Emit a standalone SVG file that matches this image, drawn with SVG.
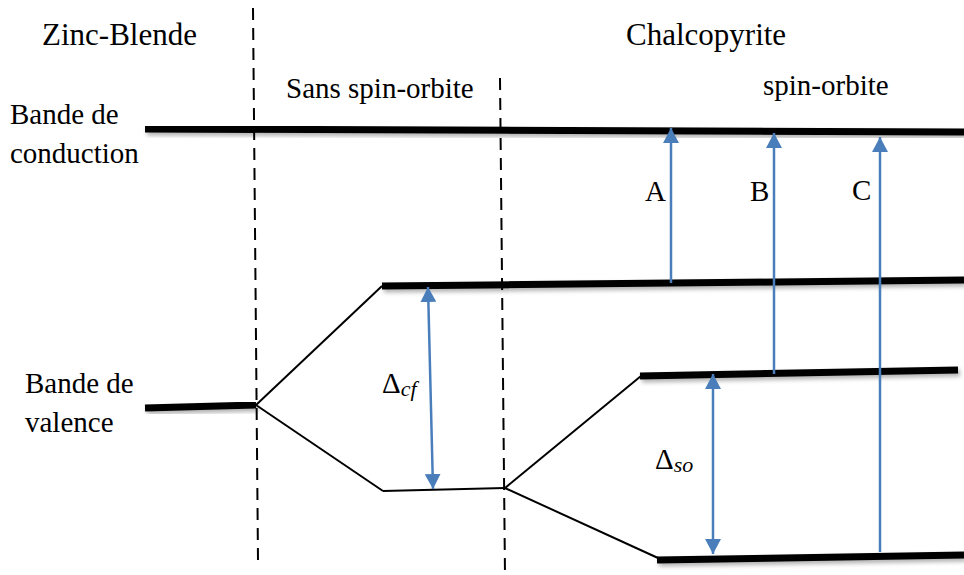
<svg xmlns="http://www.w3.org/2000/svg" width="964" height="575" viewBox="0 0 964 575">
  <defs>
    <filter id="shadow" x="-5%" y="-100%" width="110%" height="400%">
      <feDropShadow dx="2" dy="3" stdDeviation="2" flood-color="#000" flood-opacity="0.3"/>
    </filter>
    <marker id="head" markerUnits="userSpaceOnUse" markerWidth="16" markerHeight="16" refX="15" refY="8" orient="auto-start-reverse">
      <path d="M0,0 L15,8 L0,16 z" fill="#4a7ebb"/>
    </marker>
  </defs>
  <style>
    .t { font-family: "Liberation Serif", "Times New Roman", serif; fill: #000; }
    .big { font-size: 31px; }
    .lab { font-size: 29px; }
    .sub { font-size: 22px; font-style: italic; }
    .band { stroke: #000; stroke-width: 7; fill: none; filter: url(#shadow); }
    .link { stroke: #000; stroke-width: 2; fill: none; }
    .dash { stroke: #000; stroke-width: 2; stroke-dasharray: 12 8; fill: none; }
    .trans { stroke: #4a7ebb; stroke-width: 2.5; fill: none; }
  </style>

  <rect width="964" height="575" fill="#fff"/>

  <!-- section dividers -->
  <g id="dividers">
    <line class="dash" x1="253" y1="8" x2="258" y2="560"/>
    <line class="dash" x1="500" y1="78" x2="505" y2="575"/>
  </g>

  <!-- headings -->
  <g id="headings">
    <text class="t big" x="42" y="45">Zinc-Blende</text>
    <text class="t big" x="626" y="45">Chalcopyrite</text>
    <text class="t lab" x="286" y="98">Sans spin-orbite</text>
    <text class="t lab" x="763" y="95">spin-orbite</text>
  </g>

  <!-- energy levels -->
  <g id="conduction">
    <line class="band" x1="145" y1="129" x2="964" y2="132"/>
    <text class="t lab" x="10" y="124">Bande de</text>
    <text class="t lab" x="10" y="163">conduction</text>
  </g>
  <g id="valence-zb">
    <line class="band" x1="145" y1="408" x2="256" y2="405"/>
    <text class="t lab" x="25" y="393">Bande de</text>
    <text class="t lab" x="25" y="432">valence</text>
  </g>
  <g id="cf-upper">
    <line class="band" x1="382" y1="286" x2="964" y2="280"/>
  </g>
  <g id="cf-lower">
    <line class="link" x1="383" y1="491" x2="505" y2="488"/>
  </g>
  <g id="so-upper">
    <line class="band" x1="640" y1="376" x2="958" y2="370"/>
  </g>
  <g id="so-lower">
    <line class="band" x1="657" y1="560" x2="964" y2="555"/>
  </g>

  <!-- splitting connectors and transitions -->
  <g id="connectors">
    <line class="link" x1="256" y1="405" x2="382" y2="286"/>
    <line class="link" x1="256" y1="405" x2="383" y2="491"/>
    <line class="link" x1="505" y1="488" x2="641" y2="376"/>
    <line class="link" x1="505" y1="488" x2="658" y2="558"/>

    <line class="trans" x1="671" y1="283" x2="671" y2="128" marker-end="url(#head)"/>
    <line class="trans" x1="774" y1="374" x2="774" y2="133" marker-end="url(#head)"/>
    <line class="trans" x1="880" y1="552" x2="880" y2="137" marker-end="url(#head)"/>

    <line class="trans" x1="428" y1="287" x2="433" y2="489" marker-start="url(#head)" marker-end="url(#head)"/>
    <line class="trans" x1="713" y1="374" x2="713" y2="554" marker-start="url(#head)" marker-end="url(#head)"/>
  </g>

  <g id="labels">
    <text class="t lab" x="645" y="201">A</text>
    <text class="t lab" x="750" y="201">B</text>
    <text class="t lab" x="852" y="200">C</text>
    <text class="t lab" x="382" y="393">Δ<tspan class="sub" dy="3">cf</tspan></text>
    <text class="t lab" x="655" y="469">Δ<tspan class="sub" dy="3">so</tspan></text>
  </g>
</svg>
